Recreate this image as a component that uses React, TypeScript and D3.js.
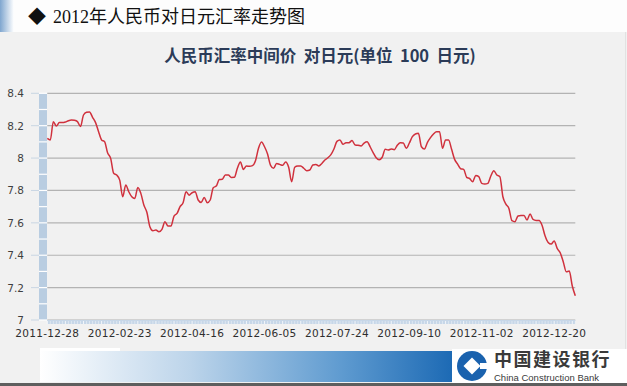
import React from "react";
import * as d3 from "d3";

const xLabels = ["2011-12-28", "2012-02-23", "2012-04-16", "2012-06-05", "2012-07-24", "2012-09-10", "2012-11-02", "2012-12-20"];
const labelEvery = 24;
const yTicks = [7, 7.2, 7.4, 7.6, 7.8, 8, 8.2, 8.4];

const rates = [
  8.122, 8.112, 8.225, 8.198, 8.219, 8.219, 8.223, 8.231, 8.235, 8.233,
  8.225, 8.195, 8.266, 8.283, 8.285, 8.252, 8.219, 8.163, 8.112, 8.101,
  8.031, 7.998, 7.906, 7.895, 7.864, 7.761, 7.834, 7.792, 7.761, 7.751,
  7.819, 7.782, 7.710, 7.665, 7.576, 7.551, 7.556, 7.545, 7.560, 7.607,
  7.580, 7.580, 7.642, 7.658, 7.700, 7.724, 7.792, 7.771, 7.786, 7.792,
  7.741, 7.726, 7.757, 7.724, 7.741, 7.817, 7.827, 7.867, 7.869, 7.895,
  7.895, 7.880, 7.881, 7.937, 7.976, 7.930, 7.951, 7.949, 7.953, 7.984,
  8.060, 8.099, 8.070, 8.025, 7.955, 7.937, 7.967, 7.961, 7.955, 7.976,
  7.943, 7.854, 7.943, 7.951, 7.951, 7.937, 7.922, 7.926, 7.957, 7.961,
  7.951, 7.967, 7.988, 8.002, 8.021, 8.056, 8.103, 8.112, 8.085, 8.095,
  8.095, 8.108, 8.081, 8.079, 8.075, 8.093, 8.101, 8.070, 8.033, 8.002,
  7.990, 8.005, 8.054, 8.050, 8.056, 8.052, 8.079, 8.095, 8.093, 8.060,
  8.093, 8.132, 8.149, 8.153, 8.070, 8.056, 8.097, 8.126, 8.149, 8.163,
  8.163, 8.060, 8.112, 8.112, 8.054, 7.992, 7.963, 7.934, 7.930, 7.881,
  7.873, 7.854, 7.893, 7.885, 7.844, 7.840, 7.844, 7.889, 7.922, 7.895,
  7.885, 7.761, 7.716, 7.689, 7.613, 7.607, 7.642, 7.646, 7.646, 7.617,
  7.654, 7.621, 7.615, 7.615, 7.584, 7.518, 7.479, 7.469, 7.488, 7.442,
  7.415, 7.360, 7.298, 7.302, 7.210, 7.150,
];

const W = 627;
const H = 386;
const plot = { left: 47.3, right: 575.3, top: 93.3, bottom: 320 };

export default function App() {
  const x = d3.scaleLinear().domain([0, rates.length - 1]).range([plot.left, plot.right]);
  const y = d3.scaleLinear().domain([7, 8.4]).range([plot.bottom, plot.top]);
  const line = d3
    .line<number>()
    .x((_, i) => x(i))
    .y((d) => y(d))
    .curve(d3.curveMonotoneX);

  const halfSteps = d3.range(0, 15).map((k) => 7 + k * 0.1);

  return (
    <svg
      width={W}
      height={H}
      style={{ position: "absolute", left: 0, top: 0, display: "block" }}
      xmlns="http://www.w3.org/2000/svg"
    >
      <defs>
        <linearGradient id="hdr" x1="0" x2="1" y1="0" y2="0">
          <stop offset="0" stopColor="#7fa6cf" />
          <stop offset="1" stopColor="#ffffff" />
        </linearGradient>
        <linearGradient id="band" x1="0" x2="1" y1="0" y2="0">
          <stop offset="0" stopColor="#ffffff" />
          <stop offset="0.35" stopColor="#bcd4ea" />
          <stop offset="0.7" stopColor="#5f9bd0" />
          <stop offset="1" stopColor="#1262b0" />
        </linearGradient>
      </defs>

      {/* backgrounds */}
      <rect x={0} y={0} width={W} height={H} fill="#f1f1f1" />
      <rect x={0} y={0} width={W} height={32} fill="#fdfdfd" />
      <rect x={0} y={0} width={14} height={32} fill="url(#hdr)" />
      <line x1={625.5} x2={625.5} y1={32} y2={350} stroke="#e2e2e2" />

      {/* header title */}
      <text x={28} y={23} fontFamily="'Liberation Serif', 'Noto Sans CJK SC', serif" fontSize={18} fill="#111">
        ◆
      </text>
      <text x={53} y={23} fontFamily="'Liberation Serif', 'Noto Sans CJK SC', serif" fontSize={18} fill="#111">
        2012年人民币对日元汇率走势图
      </text>

      {/* chart title */}
      <text
        x={320}
        y={62}
        textAnchor="middle"
        fontFamily="'Noto Sans CJK SC', sans-serif"
        fontWeight="bold"
        fontSize={16.5}
        fill="#2b3b58"
        style={{ whiteSpace: "pre" }}
        xmlSpace="preserve"
      >
        人民币汇率中间价  对日元(单位  100  日元)
      </text>

      {/* gridlines */}
      {yTicks.map((t) => (
        <g key={t}>
          <line x1={plot.left} x2={plot.right} y1={y(t)} y2={y(t)} stroke="#b3b3b3" strokeWidth={1.2} />
          <line x1={31} x2={39} y1={y(t)} y2={y(t)} stroke="#c9d6e3" strokeWidth={1} />
          <text
            x={24}
            y={y(t) + 4}
            textAnchor="end"
            fontFamily="'DejaVu Sans', Verdana, sans-serif"
            fontSize={10.5}
            fill="#3f3f3f"
          >
            {String(t)}
          </text>
        </g>
      ))}

      {/* y-axis blue bar */}
      <rect x={39} y={plot.top} width={8} height={plot.bottom - plot.top} fill="#b9cde1" />
      {halfSteps.map((v) => (
        <line key={v} x1={39} x2={47} y1={y(v)} y2={y(v)} stroke="#ffffff" strokeWidth={1.2} />
      ))}

      {/* x-axis bar */}
      <rect x={plot.left} y={plot.bottom} width={plot.right - plot.left} height={4} fill="#c7d7e8" />
      {rates.map((_, i) => (
        <line
          key={i}
          x1={x(i)}
          x2={x(i)}
          y1={plot.bottom + 1}
          y2={plot.bottom + 4}
          stroke="#ffffff"
          strokeOpacity={i % 6 === 0 ? 0.95 : 0.5}
          strokeWidth={0.8}
        />
      ))}

      {/* x labels */}
      {xLabels.map((lab, k) => (
        <text
          key={lab}
          x={x(k * labelEvery)}
          y={337}
          textAnchor="middle"
          fontFamily="'DejaVu Sans', Verdana, sans-serif"
          fontSize={10.5}
          letterSpacing={0.3}
          fill="#2e2e2e"
        >
          {lab}
        </text>
      ))}

      {/* data line */}
      <path d={line(rates) || ""} fill="none" stroke="#d0313d" strokeWidth={1.5} strokeLinejoin="round" />

      {/* bottom banner */}
      <rect x={40} y={351} width={430} height={31} fill="url(#band)" />
      <rect x={40} y={348} width={80} height={3} fill="#ffffff" />
      <rect x={0} y={383} width={W} height={3} fill="#5e5e5e" />
      <rect x={452} y={349} width={175} height={34} fill="#ffffff" />

      {/* logo */}
      <g>
        <circle cx={472} cy={366} r={15} fill="#1a62ae" />
        <rect x={466} y={360} width={12} height={12} fill="#ffffff" transform="rotate(45 472 366)" />
        <rect x={480} y={363} width={10} height={6} fill="#ffffff" />
      </g>
      <text
        x={494}
        y={366}
        fontFamily="'Noto Sans CJK SC', sans-serif"
        fontWeight="bold"
        fontSize={18}
        fill="#3a3a3a"
        letterSpacing={1.5}
      >
        中国建设银行
      </text>
      <text x={494} y={381} fontFamily="'Liberation Sans Narrow', 'Liberation Sans', sans-serif" fontSize={9.5} fill="#3a3a3a">
        China Construction Bank
      </text>
    </svg>
  );
}
